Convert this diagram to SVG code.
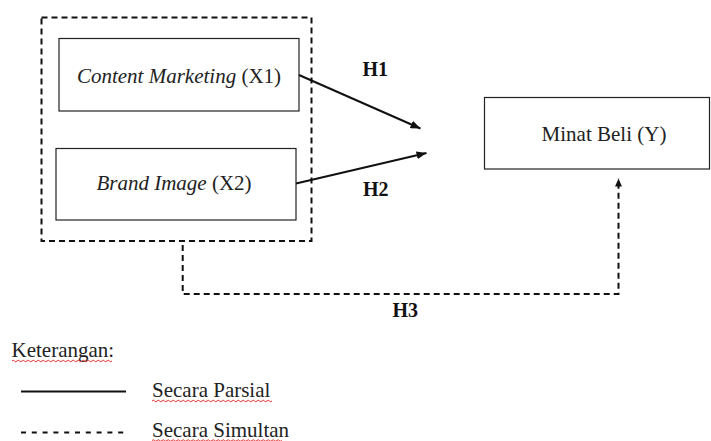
<svg xmlns="http://www.w3.org/2000/svg" width="711" height="441" viewBox="0 0 711 441">
<defs>
<marker id="ah" viewBox="0 0 10 8" refX="10" refY="4" markerWidth="10" markerHeight="8" markerUnits="userSpaceOnUse" orient="auto">
<path d="M0,0 L10,4 L0,8 Z" fill="#111"/>
</marker>
<marker id="ah2" viewBox="0 0 8 7" refX="8" refY="3.5" markerWidth="8" markerHeight="7" markerUnits="userSpaceOnUse" orient="auto">
<path d="M0,0 L8,3.5 L0,7 Z" fill="#111"/>
</marker>
<path id="sq" d="M0,0 q1,-1.5 2,0 t2,0 t2,0 t2,0 t2,0 t2,0 t2,0 t2,0 t2,0 t2,0"/>
</defs>
<style>
.t{font-family:"Liberation Serif","Times New Roman",serif;font-size:21px;fill:#222}
.i{font-style:italic}
.b{font-weight:bold;font-size:20px;fill:#111}
.box{fill:#fff;stroke:#222;stroke-width:1.2}
.dash{fill:none;stroke:#111;stroke-width:2;stroke-dasharray:6 4}
.solid{fill:none;stroke:#111;stroke-width:2}
.wave{fill:none;stroke:#e03030;stroke-width:1}
</style>
<rect width="711" height="441" fill="#fff"/>
<g id="group-x">
<rect x="41.5" y="17.5" width="270" height="223.5" class="dash"/>
</g>
<g id="node-x1">
<rect x="59" y="38.5" width="240" height="72.5" class="box" stroke="#555"/>
<text x="179" y="83" text-anchor="middle" class="t"><tspan class="i">Content Marketing</tspan> (X1)</text>
</g>
<g id="node-x2">
<rect x="56" y="148.5" width="240" height="71.5" class="box"/>
<text x="174" y="190" text-anchor="middle" class="t"><tspan class="i">Brand Image</tspan> (X2)</text>
</g>
<g id="node-y">
<rect x="484.5" y="97.5" width="225" height="71.5" class="box"/>
<text x="604" y="141" text-anchor="middle" class="t">Minat Beli (Y)</text>
</g>
<g id="connectors">
<line x1="299" y1="75" x2="420.5" y2="128.5" class="solid" marker-end="url(#ah)"/>
<line x1="296" y1="183.5" x2="426.5" y2="153" class="solid" marker-end="url(#ah)"/>
<path d="M182.7,245 V294 H618.5 V178.5" class="dash" marker-end="url(#ah2)"/>
<text x="362.5" y="76" class="t b">H1</text>
<text x="363" y="196" class="t b">H2</text>
<text x="392.5" y="317" class="t b">H3</text>
</g>
<g id="legend">
<text x="11.5" y="357" class="t">Keterangan:</text>
<line x1="21" y1="391.5" x2="126" y2="391.5" class="solid"/>
<text x="152" y="397" class="t">Secara Parsial</text>
<line x1="21" y1="432.5" x2="126" y2="432.5" stroke="#111" stroke-width="2" stroke-dasharray="5 5.8"/>
<text x="152" y="437" class="t">Secara Simultan</text>
<g class="wave">
<path d="M12,361 q1.25,-1.5 2.5,0 t2.5,0 t2.5,0 t2.5,0 t2.5,0 t2.5,0 t2.5,0 t2.5,0 t2.5,0 t2.5,0 t2.5,0 t2.5,0 t2.5,0 t2.5,0 t2.5,0 t2.5,0 t2.5,0 t2.5,0 t2.5,0 t2.5,0 t2.5,0 t2.5,0 t2.5,0 t2.5,0 t2.5,0 t2.5,0 t2.5,0 t2.5,0 t2.5,0 t2.5,0 t2.5,0 t2.5,0 t2.5,0 t2.5,0 t2.5,0 t2.5,0 t2.5,0 t2.5,0 t2.5,0 t2.5,0"/>
<path d="M152,401 q1.25,-1.5 2.5,0 t2.5,0 t2.5,0 t2.5,0 t2.5,0 t2.5,0 t2.5,0 t2.5,0 t2.5,0 t2.5,0 t2.5,0 t2.5,0 t2.5,0 t2.5,0 t2.5,0 t2.5,0 t2.5,0 t2.5,0 t2.5,0 t2.5,0 t2.5,0 t2.5,0 t2.5,0 t2.5,0 t2.5,0 t2.5,0 t2.5,0 t2.5,0 t2.5,0 t2.5,0 t2.5,0 t2.5,0 t2.5,0 t2.5,0 t2.5,0 t2.5,0 t2.5,0 t2.5,0 t2.5,0 t2.5,0 t2.5,0 t2.5,0 t2.5,0 t2.5,0 t2.5,0 t2.5,0 t2.5,0 t2.5,0"/>
<path d="M152,440.5 q1.25,-1.5 2.5,0 t2.5,0 t2.5,0 t2.5,0 t2.5,0 t2.5,0 t2.5,0 t2.5,0 t2.5,0 t2.5,0 t2.5,0 t2.5,0 t2.5,0 t2.5,0 t2.5,0 t2.5,0 t2.5,0 t2.5,0 t2.5,0 t2.5,0 t2.5,0 t2.5,0 t2.5,0 t2.5,0 t2.5,0 t2.5,0 t2.5,0 t2.5,0 t2.5,0 t2.5,0 t2.5,0 t2.5,0 t2.5,0 t2.5,0 t2.5,0 t2.5,0 t2.5,0 t2.5,0 t2.5,0 t2.5,0 t2.5,0 t2.5,0 t2.5,0 t2.5,0 t2.5,0 t2.5,0 t2.5,0 t2.5,0 t2.5,0 t2.5,0 t2.5,0 t2.5,0"/>
</g>
</g>
</svg>
